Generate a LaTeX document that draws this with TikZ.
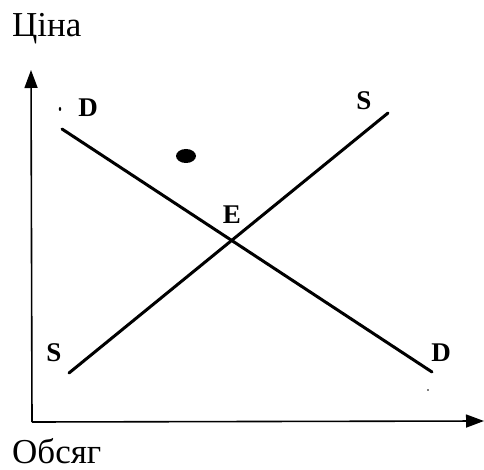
\documentclass[tikz,border=0pt]{standalone}
\usepackage{fontspec}
\setmainfont{Liberation Serif}
\usetikzlibrary{arrows.meta}
\begin{document}
\begin{tikzpicture}[x=1pt,y=-1pt,
  axis/.style={line width=1.6pt,-{Triangle[length=18pt,width=13pt]}},
  curve/.style={line width=3pt,line cap=round},
  biglabel/.style={inner sep=0pt,anchor=base west,font=\fontsize{35}{40}\selectfont},
  letter/.style={inner sep=0pt,font=\fontsize{27}{30}\selectfont\bfseries}]
\useasboundingbox (0,0) rectangle (484,470);
% axes
\coordinate (O) at (32,422);
\coordinate (Ytop) at (31,70);
\coordinate (Xend) at (484,421);
\draw[axis] (O) -- (Ytop);
\draw[axis] (O) -- (Xend);
% demand and supply lines
\coordinate (D1) at (62,129);
\coordinate (D2) at (432,372);
\coordinate (S1) at (69,373);
\coordinate (S2) at (388,113);
\draw[curve] (D1) -- (D2);
\draw[curve] (S1) -- (S2);
% labels
\node[letter] (dtop) at (88,108) {D};
\node[letter] (stop) at (364,101) {S};
\node[letter] (e) at (232,215) {E};
\node[letter] (sbot) at (54,353) {S};
\node[letter] (dbot) at (441,353) {D};
\node[biglabel] (price) at (12,37) {Ціна};
\node[biglabel] (qty) at (12,463) {Обсяг};
% dot
\fill (186,156) ellipse (10pt and 7pt);
% specks
\fill (60,109) ellipse (1.2pt and 2pt);
\fill (428,390) circle (0.8pt);
\end{tikzpicture}
\end{document}
